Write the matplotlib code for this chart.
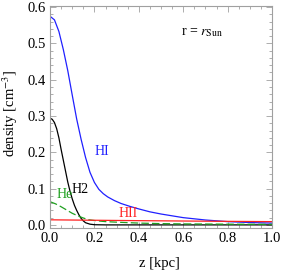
import numpy as np
import matplotlib
matplotlib.use('Agg')
import matplotlib.pyplot as plt
from matplotlib.ticker import MultipleLocator

# values
z_hi = [0.00, 0.02, 0.04, 0.06, 0.08, 0.10, 0.12, 0.14, 0.16, 0.18, 0.20,
        0.22, 0.24, 0.26, 0.29, 0.32, 0.36, 0.40, 0.45, 0.50, 0.60, 0.70,
        0.80, 0.90, 1.00]
n_hi = [0.575, 0.565, 0.533, 0.483, 0.425, 0.358, 0.292, 0.236, 0.186, 0.145,
        0.117, 0.098, 0.086, 0.077, 0.067, 0.059, 0.051, 0.044, 0.036, 0.030,
        0.020, 0.0135, 0.009, 0.0065, 0.005]

z_h2 = [0.00, 0.01, 0.02, 0.03, 0.04, 0.05, 0.06, 0.07, 0.08, 0.09, 0.10,
        0.11, 0.12, 0.13, 0.14, 0.15, 0.16, 0.18, 0.20, 0.25, 1.00]
n_h2 = [0.294, 0.291, 0.282, 0.265, 0.240, 0.208, 0.178, 0.148, 0.118, 0.093,
        0.072, 0.054, 0.040, 0.028, 0.018, 0.011, 0.006, 0.002, 0.0005, 0.0,
        0.0]

z_he = [0.00, 0.025, 0.05, 0.075, 0.10, 0.125, 0.15, 0.175, 0.20, 0.25, 0.30,
        0.40, 0.50, 0.60, 0.80, 1.00]
n_he = [0.064, 0.058, 0.050, 0.041, 0.032, 0.025, 0.019, 0.014, 0.012, 0.009,
        0.0075, 0.005, 0.0035, 0.0027, 0.002, 0.0015]

z_hii = [0.0, 0.2, 0.4, 0.6, 0.8, 1.0]
n_hii = [0.014, 0.0128, 0.0117, 0.0107, 0.0098, 0.009]

plt.rcParams['font.family'] = ['Liberation Serif', 'DejaVu Serif']
plt.rcParams['mathtext.fontset'] = 'stix'

fig = plt.figure(figsize=(2.81, 2.71), dpi=100)
ax = fig.add_axes([0.178, 0.159, 0.79, 0.819])

ax.plot(z_hi, n_hi, color='#2020ff', lw=0.9)
ax.plot(z_h2, n_h2, color='black', lw=0.9)
ax.plot(z_he, n_he, color='#20a020', lw=0.9, dashes=(6, 2.5))
ax.plot(z_hii, n_hii, color='#ff2020', lw=0.9)

ax.text(0.233, 0.202, 'HI', color='#2020ff', fontsize=10, ha='center', va='center')
ax.text(0.135, 0.098, 'H2', color='black', fontsize=10, ha='center', va='center')
ax.text(0.068, 0.083, 'He', color='#20a020', fontsize=10, ha='center', va='center')
ax.text(0.352, 0.032, 'HII', color='#ff2020', fontsize=10, ha='center', va='center')
ax.text(0.685, 0.53, r'r = $r_{\mathrm{Sun}}$', fontsize=10, ha='center', va='center')

ax.set_xlim(0, 1)
ax.set_ylim(-0.0083, 0.6033)
ax.xaxis.set_major_locator(MultipleLocator(0.2))
ax.xaxis.set_minor_locator(MultipleLocator(0.05))
ax.yaxis.set_major_locator(MultipleLocator(0.1))
ax.yaxis.set_minor_locator(MultipleLocator(0.02))
ax.xaxis.set_major_formatter(plt.FormatStrFormatter('%.1f'))
ax.yaxis.set_major_formatter(plt.FormatStrFormatter('%.1f'))

for s in ax.spines.values():
    s.set_color('#a0a0a0')
    s.set_linewidth(0.8)
ax.tick_params(which='both', direction='in', top=True, right=True,
               color='#a0a0a0', labelsize=10.5, width=0.6, pad=3)
ax.tick_params(which='major', length=4)
ax.tick_params(which='minor', length=2.2)

ax.set_xlabel('z [kpc]', fontsize=10.5, va='center')
ax.set_ylabel(r'density [cm$^{-3}$]', fontsize=10.5, va='center')
ax.xaxis.set_label_coords(0.495, -0.162)
ax.yaxis.set_label_coords(-0.178, 0.518)

fig.savefig('out.png', dpi=100)
